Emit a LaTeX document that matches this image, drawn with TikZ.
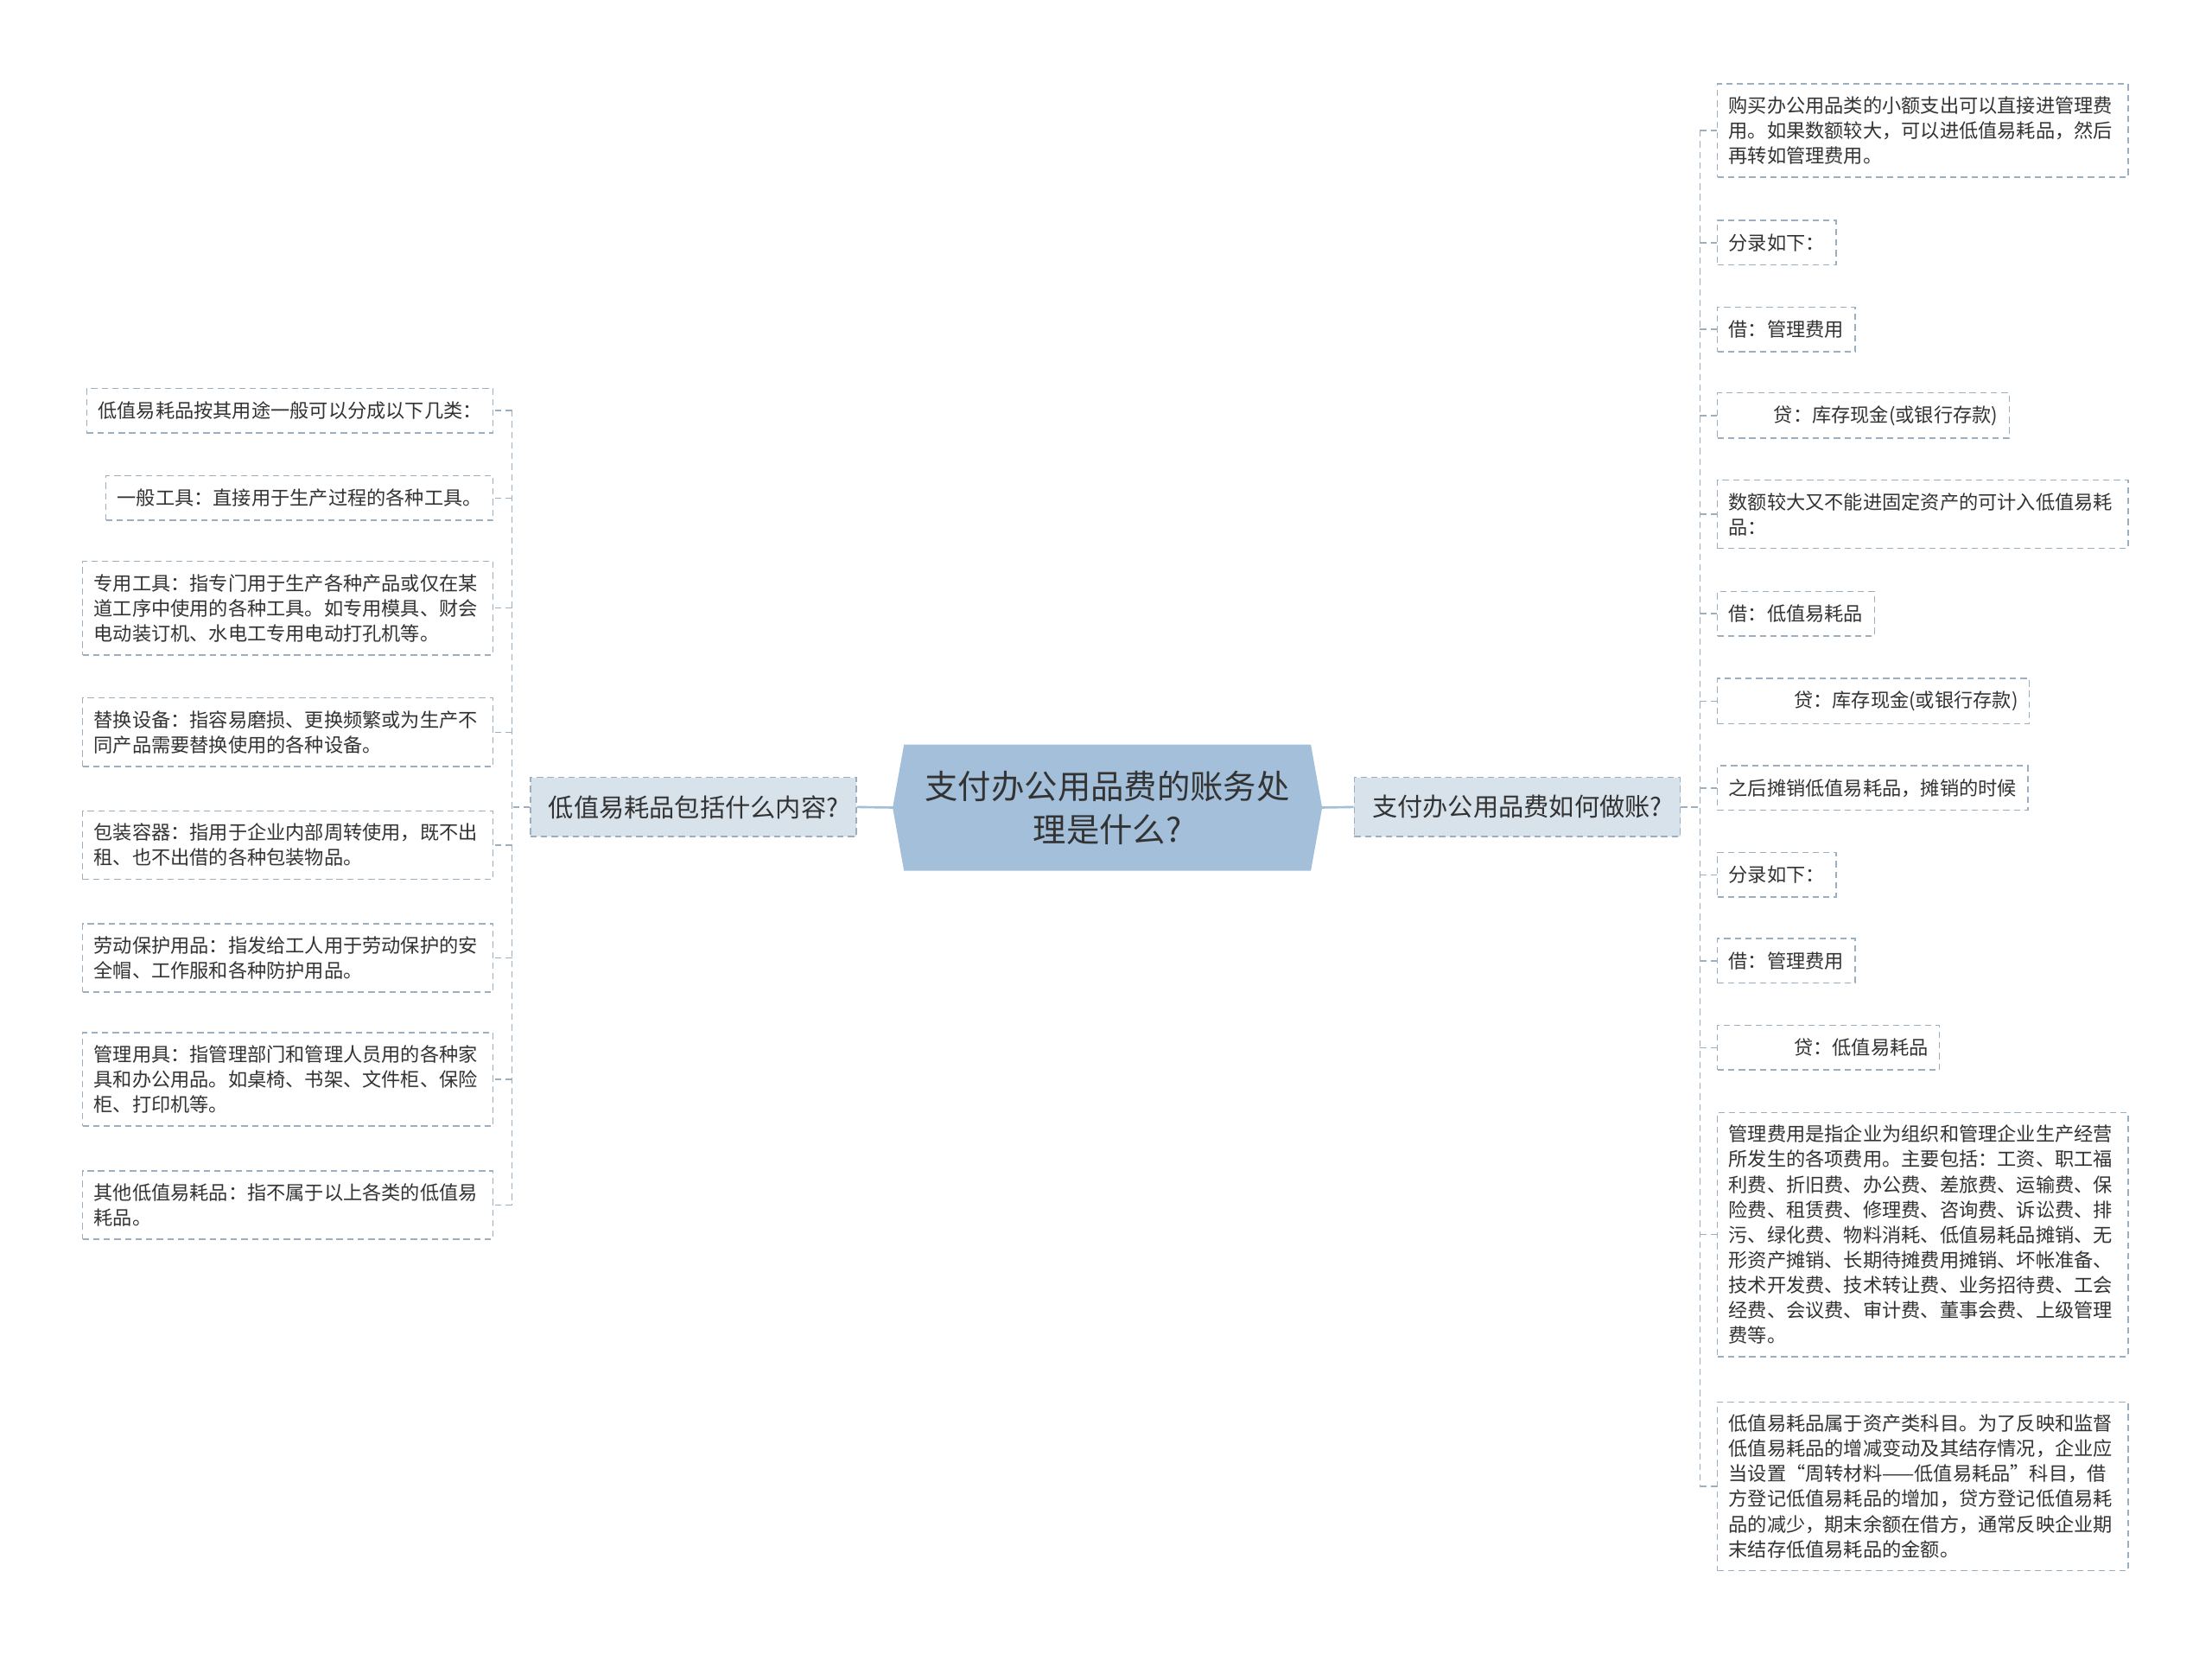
\documentclass[tikz,border=0pt]{standalone}
\usepackage{fontspec}
\setmainfont{Noto Sans CJK SC}
\usetikzlibrary{backgrounds}
\definecolor{rootblue}{HTML}{A3BFD9}
\definecolor{branchfill}{HTML}{D8E2EB}
\definecolor{edgegray}{HTML}{9CAFC1}
\definecolor{ink}{HTML}{333333}
\begin{document}
\begin{tikzpicture}[x=1pt,y=-1pt,
    rootbox/.style={text=ink,font=\fontsize{23.5}{31}\selectfont,align=center,minimum width=288pt,minimum height=89pt,inner sep=0pt},
    branch/.style={draw=edgegray,fill=branchfill,dash pattern=on 4.5pt off 3pt,line width=0.9pt,text=ink,font=\fontsize{17.9}{21}\selectfont,minimum width=231pt,minimum height=42pt,inner sep=0pt},
    leaf/.style={draw=edgegray,dash pattern=on 4.5pt off 3pt,line width=0.9pt,text=ink,font=\fontsize{13.6}{17.8}\selectfont,inner xsep=8pt,inner ysep=9pt,minimum height=31.5pt},
    leafl/.style={leaf,anchor=east},
    leafr/.style={leaf,anchor=west},
    para/.style={text width=275pt,align=left},
    twig/.style={draw=edgegray,line width=0.9pt,dash pattern=on 4.5pt off 3pt},
    trunk/.style={draw=rootblue,line width=1.6pt}]
  \useasboundingbox (0,0) rectangle (1568,1172);

  \node[rootbox] at (785,572.5) (root) {支付办公用品费的账务处\\理是什么?};
  \node[branch] at (491.5,572) (lb) {低值易耗品包括什么内容?};
  \node[branch] at (1075.5,572) (rb) {支付办公用品费如何做账?};

  \node[leafl] at (350,291) (l1) {低值易耗品按其用途一般可以分成以下几类：};
  \node[leafl] at (350,353) (l2) {一般工具：直接用于生产过程的各种工具。};
  \node[leafl,para] at (350,431) (l3) {专用工具：指专门用于生产各种产品或仅在某\\道工序中使用的各种工具。如专用模具、财会\\电动装订机、水电工专用电动打孔机等。};
  \node[leafl,para] at (350,519) (l4) {替换设备：指容易磨损、更换频繁或为生产不\\同产品需要替换使用的各种设备。};
  \node[leafl,para] at (350,599) (l5) {包装容器：指用于企业内部周转使用，既不出\\租、也不出借的各种包装物品。};
  \node[leafl,para] at (350,679) (l6) {劳动保护用品：指发给工人用于劳动保护的安\\全帽、工作服和各种防护用品。};
  \node[leafl,para] at (350,765) (l7) {管理用具：指管理部门和管理人员用的各种家\\具和办公用品。如桌椅、书架、文件柜、保险\\柜、打印机等。};
  \node[leafl,para] at (350,854) (l8) {其他低值易耗品：指不属于以上各类的低值易\\耗品。};

  \node[leafr,para] at (1217,92.5) (r1) {购买办公用品类的小额支出可以直接进管理费\\用。如果数额较大，可以进低值易耗品，然后\\再转如管理费用。};
  \node[leafr] at (1217,172) (r2) {分录如下：};
  \node[leafr] at (1217,233.5) (r3) {借：管理费用};
  \node[leafr] at (1217,294.5) (r4) {\hspace*{2.35em}贷：库存现金(或银行存款)};
  \node[leafr,para] at (1217,364.5) (r5) {数额较大又不能进固定资产的可计入低值易耗\\品：};
  \node[leafr] at (1217,435) (r6) {借：低值易耗品};
  \node[leafr] at (1217,497) (r7) {\hspace*{3.4em}贷：库存现金(或银行存款)};
  \node[leafr] at (1217,558.5) (r8) {之后摊销低值易耗品，摊销的时候};
  \node[leafr] at (1217,620) (r9) {分录如下：};
  \node[leafr] at (1217,681) (r10) {借：管理费用};
  \node[leafr] at (1217,742.5) (r11) {\hspace*{3.4em}贷：低值易耗品};
  \node[leafr,para] at (1217,875) (r12) {管理费用是指企业为组织和管理企业生产经营\\所发生的各项费用。主要包括：工资、职工福\\利费、折旧费、办公费、差旅费、运输费、保\\险费、租赁费、修理费、咨询费、诉讼费、排\\污、绿化费、物料消耗、低值易耗品摊销、无\\形资产摊销、长期待摊费用摊销、坏帐准备、\\技术开发费、技术转让费、业务招待费、工会\\经费、会议费、审计费、董事会费、上级管理\\费等。};
  \node[leafr,para] at (1217,1053.5) (r13) {低值易耗品属于资产类科目。为了反映和监督\\低值易耗品的增减变动及其结存情况，企业应\\当设置“周转材料——低值易耗品”科目，借\\方登记低值易耗品的增加，贷方登记低值易耗\\品的减少，期末余额在借方，通常反映企业期\\末结存低值易耗品的金额。};

  \coordinate (sl) at (363,572);
  \coordinate (sr) at (1205,572);

  \begin{scope}[on background layer]
    \fill[white] (0,0) rectangle (1568,1172);
    \draw[trunk] (root.west) -- (lb.east);
    \draw[trunk] (root.east) -- (rb.west);
    \fill[rootblue] (root.north west) -- (root.north east) -- ([xshift=8pt]root.east) -- (root.south east) -- (root.south west) -- ([xshift=-8pt]root.west) -- cycle;
  \end{scope}

  \draw[twig] (lb.west) -- (sl);
  \draw[twig] (sl |- l1.east) -- (sl |- l8.east);
  \foreach \i in {1,...,8}
    \draw[twig] (sl |- l\i.east) -- (l\i.east);

  \draw[twig] (rb.east) -- (sr);
  \draw[twig] (sr |- r1.west) -- (sr |- r13.west);
  \foreach \i in {1,...,13}
    \draw[twig] (sr |- r\i.west) -- (r\i.west);
\end{tikzpicture}
\end{document}
